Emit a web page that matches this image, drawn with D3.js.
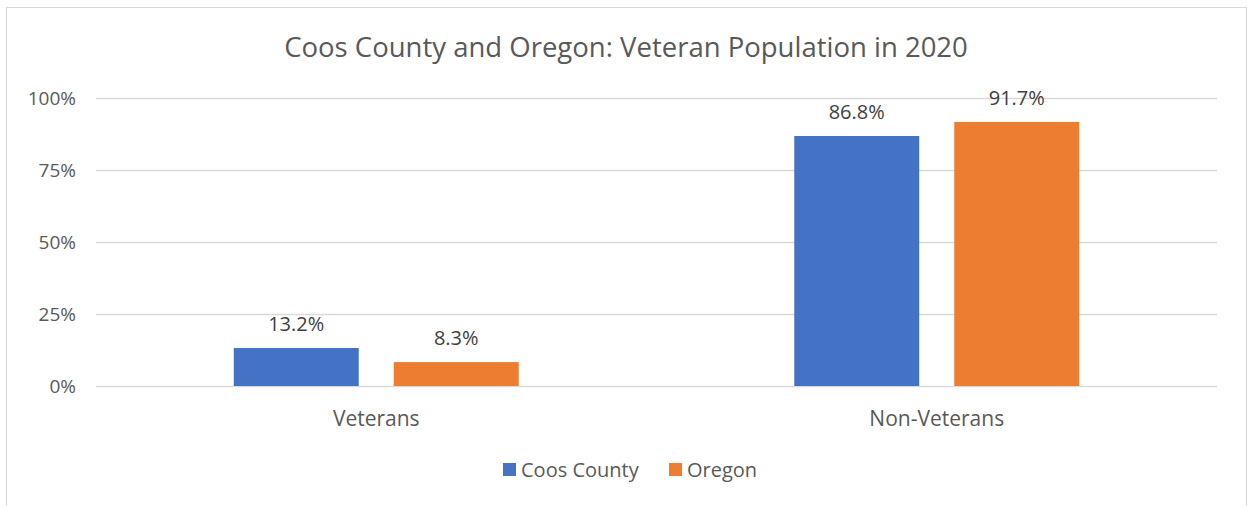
<!DOCTYPE html>
<html>
<head>
<meta charset="utf-8">
<script src="https://cdn.jsdelivr.net/npm/d3@7"></script>
<style>
  html, body { margin: 0; padding: 0; background: #fff; }
  svg { display: block; font-family: "Open Sans", "Noto Sans", sans-serif; }
</style>
</head>
<body>
<svg id="chart" width="1248" height="506"></svg>
<script>
// Chart data
const categories = ["Veterans", "Non-Veterans"];
const seriesNames = ["Coos County", "Oregon"];
const coosCounty = [13.2, 86.8];
const oregon = [8.3, 91.7];
const yTicks = [0, 25, 50, 75, 100];
const colors = ["#4472C4", "#ED7D31"];
const titleText = "Coos County and Oregon: Veteran Population in 2020";

const seriesValues = [coosCounty, oregon];
const svg = d3.select("#chart");
const W = 1248, H = 506;
const margin = { left: 96, right: 31, top: 98, bottom: 120 };
const textColor = "#595959";

// Outer chart frame
svg.append("rect")
  .attr("x", 6.5).attr("y", 7.5)
  .attr("width", 1240).attr("height", 520)
  .attr("fill", "#fff").attr("stroke", "#d9d9d9").attr("stroke-width", 1);

const x0 = d3.scaleBand()
  .domain(categories)
  .range([margin.left, W - margin.right])
  .paddingInner(0).paddingOuter(0);

const x1 = d3.scaleBand()
  .domain(seriesNames)
  .range([0, x0.bandwidth()])
  .paddingInner(0.219)
  .paddingOuter(0.861);

const y = d3.scaleLinear().domain([0, 100]).range([H - margin.bottom, margin.top]);

// Gridlines + y axis labels
const yAxis = d3.axisLeft(y)
  .tickValues(yTicks)
  .tickFormat(d => d + "%")
  .tickSize(-(W - margin.left - margin.right))
  .tickPadding(20);

const gy = svg.append("g")
  .attr("transform", `translate(${margin.left},0)`)
  .call(yAxis);
gy.select(".domain").remove();
gy.selectAll(".tick line").attr("stroke", "#d9d9d9").attr("stroke-width", 1.3);
gy.selectAll(".tick text")
  .attr("fill", textColor)
  .style("font-size", "19px")
  .style("font-family", "'Open Sans', sans-serif");

// X axis category labels
const xAxis = d3.axisBottom(x0).tickSize(0).tickPadding(25);
const gx = svg.append("g")
  .attr("transform", `translate(0,${y(0)})`)
  .call(xAxis);
gx.select(".domain").remove();
gx.selectAll(".tick text")
  .attr("fill", textColor)
  .style("font-size", "21px")
  .style("font-family", "'Open Sans', sans-serif");

// Bars and value labels
const groups = svg.append("g").selectAll("g")
  .data(categories)
  .join("g")
  .attr("transform", d => `translate(${x0(d)},0)`);

groups.selectAll("rect")
  .data((c, i) => seriesNames.map((s, j) => ({ s, v: seriesValues[j][i], j })))
  .join("rect")
  .attr("x", d => x1(d.s))
  .attr("width", x1.bandwidth())
  .attr("y", d => y(d.v))
  .attr("height", d => y(0) - y(d.v))
  .attr("fill", d => colors[d.j]);

groups.selectAll("text.val")
  .data((c, i) => seriesNames.map((s, j) => ({ s, v: seriesValues[j][i], j })))
  .join("text")
  .attr("class", "val")
  .attr("x", d => x1(d.s) + x1.bandwidth() / 2)
  .attr("y", d => y(d.v) - 17)
  .attr("text-anchor", "middle")
  .attr("fill", "#404040")
  .style("font-size", "20px")
  .text(d => d.v.toFixed(1) + "%");

// Title
svg.append("text")
  .attr("x", 626).attr("y", 57)
  .attr("text-anchor", "middle")
  .attr("fill", textColor)
  .style("font-size", "27.5px")
  .text(titleText);

// Legend
const legend = svg.append("g").attr("transform", "translate(0,469)");
const legendItems = [{ x: 503 }, { x: 669 }];
seriesNames.forEach((name, i) => {
  const g = legend.append("g").attr("transform", `translate(${legendItems[i].x},0)`);
  g.append("rect").attr("x", 0).attr("y", -6).attr("width", 13).attr("height", 13).attr("fill", colors[i]);
  g.append("text").attr("x", 18).attr("y", 7.5)
    .attr("fill", textColor)
    .style("font-size", "20px")
    .text(name);
});
</script>
</body>
</html>
